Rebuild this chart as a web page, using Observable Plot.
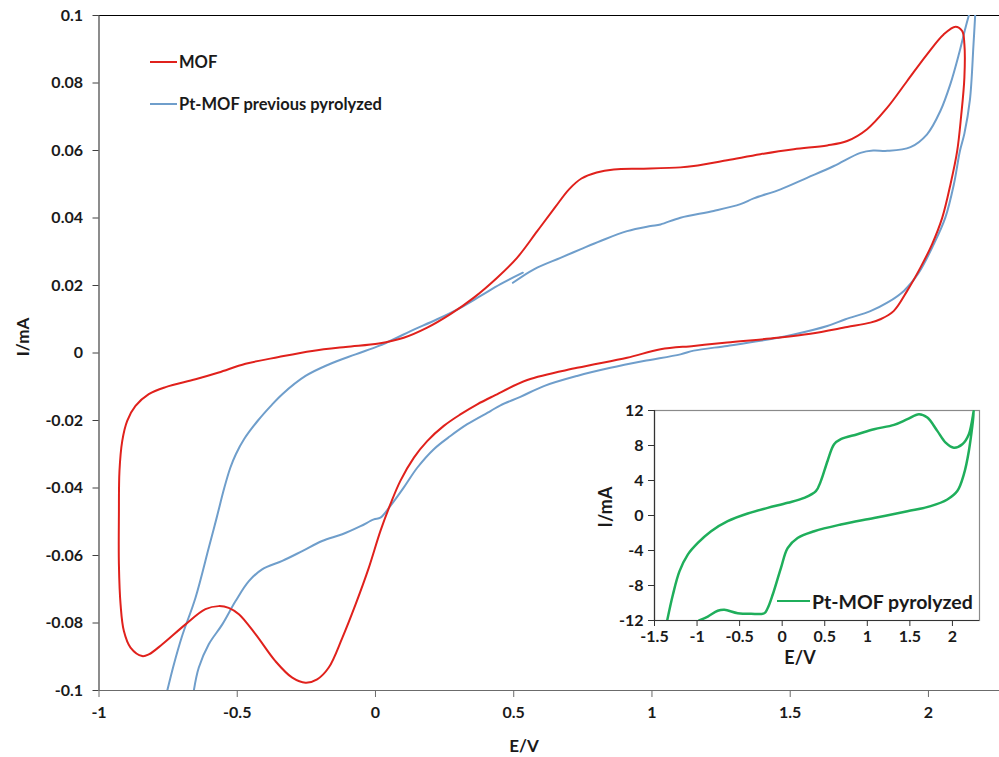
<!DOCTYPE html>
<html><head><meta charset="utf-8">
<script src="https://cdn.jsdelivr.net/npm/d3@7"></script>
<script src="https://cdn.jsdelivr.net/npm/@observablehq/plot@0.6"></script>
<style>
body{margin:0;background:#fff;}
#wrap{position:relative;width:999px;height:757px;font-family:Lato,"Open Sans",sans-serif;font-weight:bold;color:#1a1a1a;overflow:hidden;}
#wrap svg{position:absolute;}
.lbl{position:absolute;white-space:nowrap;font-weight:bold;}
.leg{position:absolute;display:flex;align-items:center;font-weight:bold;white-space:nowrap;}
.leg span.sw{display:inline-block;height:0;border-top:2px solid;margin-right:2px;}
</style></head>
<body><div id="wrap"></div>
<script>
// ---- main chart: MOF (red loop) ----
const mofE = [-0.844,-0.886,-0.910,-0.922,-0.928,-0.928,-0.926,-0.916,-0.898,-0.868,-0.820,-0.759,-0.651,-0.567,-0.470,-0.350,-0.229,-0.108,0.012,0.102,0.187,0.271,0.356,0.440,0.512,0.585,0.650,0.700,0.745,0.800,0.862,0.970,1.103,1.151,1.272,1.392,1.513,1.634,1.706,1.778,1.851,1.923,1.995,2.055,2.098,2.122,2.130,2.130,2.118,2.104,2.080,2.050,2.013,1.971,1.923,1.874,1.826,1.790,1.706,1.573,1.453,1.272,1.151,1.031,0.910,0.729,0.549,0.428,0.368,0.307,0.247,0.187,0.139,0.090,0.054,0.018,-0.024,-0.072,-0.120,-0.169,-0.211,-0.253,-0.301,-0.362,-0.434,-0.494,-0.531,-0.567,-0.615,-0.687,-0.771,-0.820];
const mofI = [-0.0898,-0.0873,-0.0824,-0.0745,-0.0626,-0.0478,-0.0350,-0.0261,-0.0201,-0.0157,-0.0122,-0.0101,-0.0078,-0.0058,-0.0032,-0.0012,0.0006,0.0018,0.0028,0.0045,0.0075,0.0115,0.0164,0.0223,0.0282,0.0361,0.0432,0.0485,0.0517,0.0535,0.0544,0.0546,0.0550,0.0554,0.0571,0.0589,0.0604,0.0615,0.0628,0.0663,0.0727,0.0806,0.0885,0.0944,0.0967,0.0954,0.0915,0.0816,0.0700,0.0599,0.0501,0.0401,0.0322,0.0253,0.0184,0.0124,0.0100,0.0090,0.0077,0.0057,0.0045,0.0031,0.0021,0.0011,-0.0014,-0.0044,-0.0080,-0.0127,-0.0152,-0.0182,-0.0216,-0.0261,-0.0310,-0.0379,-0.0448,-0.0527,-0.0636,-0.0745,-0.0844,-0.0932,-0.0967,-0.0977,-0.0962,-0.0913,-0.0833,-0.0774,-0.0755,-0.0750,-0.0759,-0.0804,-0.0863,-0.0893];

// ---- main chart: Pt-MOF previous pyrolyzed (blue, three traced pieces) ----
const ptAE = [-0.753,-0.730,-0.700,-0.651,-0.603,-0.575,-0.547,-0.525,-0.505,-0.475,-0.425,-0.380,-0.337,-0.253,-0.169,-0.072,0.012,0.072,0.127,0.223,0.307,0.380,0.452,0.533];
const ptAI = [-0.1000,-0.0925,-0.0840,-0.0725,-0.0577,-0.0490,-0.0400,-0.0340,-0.0300,-0.0255,-0.0200,-0.0158,-0.0122,-0.0068,-0.0034,-0.0004,0.0021,0.0043,0.0065,0.0100,0.0134,0.0169,0.0204,0.0238];
const ptBE = [0.497,0.573,0.669,0.741,0.814,0.910,0.995,1.031,1.103,1.223,1.320,1.368,1.465,1.561,1.658,1.754,1.800,1.851,1.935,1.995,2.043,2.079,2.110,2.134,2.146];
const ptBI = [0.0208,0.0248,0.0282,0.0307,0.0332,0.0361,0.0376,0.0381,0.0401,0.0421,0.0441,0.0458,0.0485,0.0519,0.0554,0.0593,0.0600,0.0599,0.0610,0.0648,0.0717,0.0796,0.0885,0.0964,0.1000];
const ptCE = [2.169,2.163,2.150,2.130,2.114,2.092,2.061,2.019,1.965,1.911,1.851,1.790,1.700,1.634,1.513,1.392,1.272,1.151,1.103,0.970,0.850,0.729,0.609,0.524,0.452,0.416,0.332,0.271,0.211,0.151,0.102,0.054,0.018,-0.006,-0.054,-0.120,-0.193,-0.265,-0.337,-0.410,-0.458,-0.506,-0.554,-0.603,-0.639,-0.657];
const ptCI = [0.1000,0.0915,0.0750,0.0650,0.0599,0.0500,0.0401,0.0322,0.0238,0.0184,0.0149,0.0124,0.0100,0.0080,0.0055,0.0036,0.0021,0.0007,-0.0004,-0.0024,-0.0044,-0.0068,-0.0098,-0.0130,-0.0155,-0.0172,-0.0211,-0.0246,-0.0285,-0.0340,-0.0399,-0.0453,-0.0488,-0.0493,-0.0513,-0.0537,-0.0557,-0.0587,-0.0616,-0.0641,-0.0676,-0.0735,-0.0804,-0.0863,-0.0932,-0.1000];

const mainXTicks = [-1,-0.5,0,0.5,1,1.5,2];
const mainYTicks = [-0.1,-0.08,-0.06,-0.04,-0.02,0,0.02,0.04,0.06,0.08,0.1];
const mainXDomain = [-1, 2.257];
const mainYDomain = [-0.1, 0.1];

// ---- inset: Pt-MOF pyrolyzed (green loop) ----
const insE = [-1.351,-1.284,-1.207,-1.109,-0.991,-0.835,-0.640,-0.405,-0.171,0.064,0.258,0.396,0.454,0.533,0.610,0.689,0.884,1.079,1.314,1.471,1.607,1.705,1.822,1.920,2.017,2.116,2.193,2.252,2.193,2.134,2.057,1.940,1.744,1.471,1.079,0.689,0.376,0.181,0.064,-0.015,-0.112,-0.171,-0.210,-0.366,-0.522,-0.679,-0.757,-0.874,-0.975];
const insI = [-12,-9.06,-6.39,-4.47,-3.14,-1.80,-0.65,0.23,0.87,1.45,2.02,2.79,3.93,6.23,8.14,8.72,9.29,9.86,10.36,11.01,11.58,11.19,9.67,8.33,7.75,8.14,9.29,12,7.37,4.70,2.79,1.83,1.07,0.49,-0.28,-1.03,-1.80,-2.57,-3.72,-6.01,-9.06,-10.6,-11.17,-11.24,-11.17,-10.78,-10.89,-11.55,-12];
const insXTicks = [-1.5,-1,-0.5,0,0.5,1,1.5,2];
const insYTicks = [-12,-8,-4,0,4,8,12];
const insXDomain = [-1.5, 2.318];
const insYDomain = [-12, 12];

const RED = "#e0211c", BLUE = "#6f9ecb", GREEN = "#1fae5b";
const fmt = d => String(d);

const mofData = mofE.map((e,k)=>({e, i:mofI[k]}));
const ptData = [
  ...ptAE.map((e,k)=>({e, i:ptAI[k], s:"a"})),
  ...ptBE.map((e,k)=>({e, i:ptBI[k], s:"b"})),
  ...ptCE.map((e,k)=>({e, i:ptCI[k], s:"c"}))
];
const insData = insE.map((e,k)=>({e, i:insI[k]}));

const wrap = document.getElementById("wrap");

const main = Plot.plot({
  width: 999, height: 757,
  marginLeft: 98.5, marginRight: 0, marginTop: 15, marginBottom: 67,
  style: {fontFamily: "Lato, 'Open Sans', sans-serif", fontSize: "16px", fontWeight: "bold", color: "#1a1a1a", background: "transparent"},
  x: {domain: mainXDomain},
  y: {domain: mainYDomain},
  marks: [
    Plot.ruleY([mainYDomain[1]], {stroke: "#000", strokeWidth: 1.2}),
    Plot.ruleY([mainYDomain[0]], {stroke: "#6b6b6b", strokeWidth: 1.2}),
    Plot.ruleX([mainXDomain[0]], {stroke: "#404040", strokeWidth: 1.2}),
    Plot.axisY({ticks: mainYTicks, tickFormat: fmt, tickSize: 6, tickPadding: 10, label: null, stroke: "#404040"}),
    Plot.axisX({ticks: mainXTicks, tickFormat: fmt, tickSize: 7, tickPadding: 9, label: null, stroke: "#6b6b6b"}),
    Plot.line(ptData, {x: "e", y: "i", z: "s", stroke: BLUE, strokeWidth: 2, curve: "catmull-rom", clip: true}),
    Plot.line(mofData, {x: "e", y: "i", stroke: RED, strokeWidth: 2, curve: "catmull-rom-closed", clip: true})
  ]
});
main.style.left = "0px"; main.style.top = "0px";
wrap.appendChild(main);

const inset = Plot.plot({
  width: 430, height: 280,
  marginLeft: 94, marginRight: 11, marginTop: 15, marginBottom: 55,
  style: {fontFamily: "Lato, 'Open Sans', sans-serif", fontSize: "16px", fontWeight: "bold", color: "#1a1a1a", background: "transparent"},
  x: {domain: insXDomain},
  y: {domain: insYDomain},
  marks: [
    Plot.frame({fill: "#fff", stroke: "#8a8a8a", strokeWidth: 1.2}),
    Plot.ruleX([insXDomain[0]], {stroke: "#333", strokeWidth: 1.2}),
    Plot.ruleY([insYDomain[0]], {stroke: "#333", strokeWidth: 1.2}),
    Plot.axisY({ticks: insYTicks, tickFormat: fmt, tickSize: 6, tickPadding: 5, label: null, stroke: "#333"}),
    Plot.axisX({ticks: insXTicks, tickFormat: fmt, tickSize: 6, tickPadding: 4, label: null, stroke: "#333"}),
    Plot.line(insData, {x: "e", y: "i", stroke: GREEN, strokeWidth: 2.5, curve: "catmull-rom", clip: true})
  ]
});
inset.style.left = "560px"; inset.style.top = "395px";
wrap.appendChild(inset);

function addLabel(text, x, y, size, rotate) {
  const d = document.createElement("div");
  d.className = "lbl";
  d.textContent = text;
  d.style.fontSize = size + "px";
  d.style.left = x + "px"; d.style.top = y + "px";
  d.style.transform = "translate(-50%,-50%)" + (rotate ? " rotate(-90deg)" : "");
  wrap.appendChild(d);
}
addLabel("I/mA", 22, 337, 17, true);
addLabel("E/V", 524, 745, 17, false);
addLabel("I/mA", 605, 507, 18, true);
addLabel("E/V", 800, 657, 18, false);

function addLegend(text, color, x, y, w, size) {
  const d = document.createElement("div");
  d.className = "leg";
  d.style.left = x + "px"; d.style.top = (y - 12) + "px"; d.style.height = "24px";
  d.style.fontSize = size + "px";
  const s = document.createElement("span");
  s.className = "sw"; s.style.borderTopColor = color; s.style.width = w + "px";
  const t = document.createElement("span"); t.textContent = text;
  d.appendChild(s); d.appendChild(t);
  wrap.appendChild(d);
}
addLegend("MOF", RED, 150, 62, 27, 16.5);
addLegend("Pt-MOF previous pyrolyzed", BLUE, 150, 104, 27, 16.5);
addLegend("Pt-MOF pyrolyzed", GREEN, 777, 601, 33, 19.5);
</script></body></html>
